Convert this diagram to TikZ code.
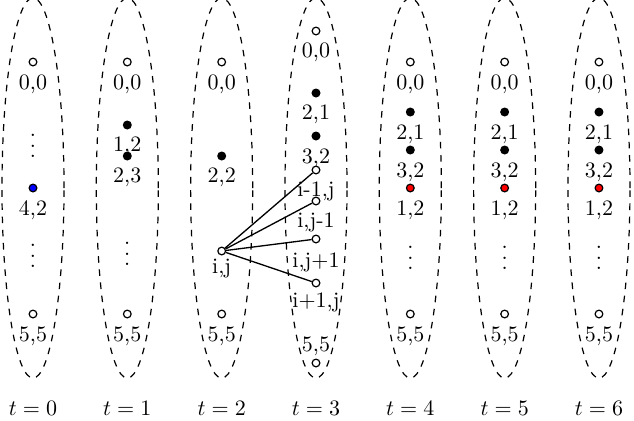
\documentclass[tikz,border=0pt]{standalone}
\newcommand\myvd{\vbox{\baselineskip=4.9pt\lineskiplimit=0pt\hbox{.}\hbox{.}\hbox{.}}}
\begin{document}
\begin{tikzpicture}[x=0.4545pt,y=-0.4545pt,
  every node/.style={inner sep=0pt,font=\fontsize{10}{12}\selectfont},
  odot/.style={circle,draw,fill=white,minimum size=3.5pt,line width=0.55pt},
  fdot/.style={circle,draw,fill=black,minimum size=3.5pt,line width=0.55pt},
  bdot/.style={circle,draw,fill=blue,minimum size=3.5pt,line width=0.55pt},
  rdot/.style={circle,draw,fill=red,minimum size=3.5pt,line width=0.55pt},
  lbl/.style={anchor=base},
  vd/.style={},
  orb/.style={draw,dashed,line width=0.55pt},
  link/.style={draw,line width=0.6pt}]
\useasboundingbox (0,0) rectangle (634,420);
% ellipses
\foreach \k in {0,...,6}{
  \path[orb] ({33+94.33*\k},188) ellipse [x radius=14.1pt, y radius=86.4pt];
  \node[lbl] (t\k) at ({33+94.33*\k},415) {$t=\k$};
}
% column 0
\node[odot] (a1) at (33,62) {};   \node[lbl] (la1) at (33,89) {0,0};
\node[vd] (av1) at (33,146) {\myvd};
\node[bdot] (a2) at (33,188) {};  \node[lbl] (la2) at (33,215) {4,2};
\node[vd] (av2) at (33,256) {\myvd};
\node[odot] (a3) at (33,314) {};  \node[lbl] (la3) at (33,341) {5,5};
% column 1
\node[odot] (b1) at (127.3,62) {};  \node[lbl] (lb1) at (127.3,89) {0,0};
\node[fdot] (b2) at (127.3,125) {}; \node[lbl] (lb2) at (127.3,151) {1,2};
\node[fdot] (b3) at (127.3,156) {}; \node[lbl] (lb3) at (127.3,182) {2,3};
\node[vd] (bv1) at (127.3,254) {\myvd};
\node[odot] (b4) at (127.3,314) {}; \node[lbl] (lb4) at (127.3,341) {5,5};
% column 2
\node[odot] (c1) at (221.7,62) {};  \node[lbl] (lc1) at (221.7,89) {0,0};
\node[fdot] (c2) at (221.7,156) {}; \node[lbl] (lc2) at (221.7,182) {2,2};
\node[odot] (c3) at (221.7,251) {}; \node[lbl] (lc3) at (221.7,273) {i,j};
\node[odot] (c4) at (221.7,314) {}; \node[lbl] (lc4) at (221.7,341) {5,5};
% column 3
\node[odot] (d1) at (316,31) {};  \node[lbl] (ld1) at (316,57) {0,0};
\node[fdot] (d2) at (316,93) {};  \node[lbl] (ld2) at (316,119) {2,1};
\node[fdot] (d3) at (316,136) {}; \node[lbl] (ld3) at (316,163) {3,2};
\node[odot] (d4) at (316,170) {}; \node[lbl] (ld4) at (316,196) {i-1,j};
\node[odot] (d5) at (316,201) {}; \node[lbl] (ld5) at (316,227) {i,j-1};
\node[odot] (d6) at (316,239) {}; \node[lbl] (ld6) at (316,267) {i,j+1};
\node[odot] (d7) at (316,283) {}; \node[lbl] (ld7) at (316,307) {i+1,j};
\node[lbl] (ld8) at (316,351) {5,5};
\node[odot] (d8) at (316,363) {};
\draw[link] (c3) -- (d4);
\draw[link] (c3) -- (d5);
\draw[link] (c3) -- (d6);
\draw[link] (c3) -- (d7);
% columns 4-6
\foreach \k/\n in {4/e,5/f,6/g}{
  \pgfmathsetmacro\xx{33+94.33*\k}
  \node[odot] (\n1) at (\xx,62) {};  \node[lbl] (l\n1) at (\xx,89) {0,0};
  \node[fdot] (\n2) at (\xx,112) {}; \node[lbl] (l\n2) at (\xx,139) {2,1};
  \node[fdot] (\n3) at (\xx,150) {}; \node[lbl] (l\n3) at (\xx,177) {3,2};
  \node[rdot] (\n4) at (\xx,188) {}; \node[lbl] (l\n4) at (\xx,215) {1,2};
  \node[vd] (\n v) at (\xx,258) {\myvd};
  \node[odot] (\n5) at (\xx,314) {}; \node[lbl] (l\n5) at (\xx,341) {5,5};
}
\end{tikzpicture}
\end{document}
